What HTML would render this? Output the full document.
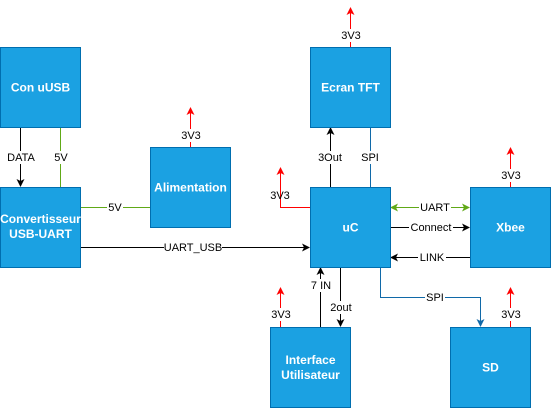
<!DOCTYPE html>
<html><head><meta charset="utf-8"><style>
html,body{margin:0;padding:0;background:#fff;}
svg{display:block;font-family:"Liberation Sans",Helvetica,Arial,sans-serif;}
.b{fill:#1ba1e2;stroke:#006eaf;stroke-width:1;}
.t{fill:#fff;font-size:12px;font-weight:bold;text-anchor:middle;}
.l{font-size:11px;text-anchor:middle;fill:#000;}
.k{stroke:#000;fill:none;}
.g{stroke:#60a917;fill:none;}
.r{stroke:#ff0000;fill:none;}
.u{stroke:#1069a8;fill:none;}
.bg{fill:#fff;}
</style></head><body>
<svg width="551" height="408" viewBox="0 0 551 408" xmlns="http://www.w3.org/2000/svg">
<defs>
<marker id="ak" markerWidth="8" markerHeight="8" refX="7" refY="4" orient="auto" markerUnits="userSpaceOnUse"><path d="M0,0 L8,4 L0,8 L2,4 Z" fill="#000"/></marker>
<marker id="ar" markerWidth="8" markerHeight="8" refX="7" refY="4" orient="auto" markerUnits="userSpaceOnUse"><path d="M0,0 L8,4 L0,8 L2,4 Z" fill="#ff0000"/></marker>
<marker id="ag" markerWidth="8" markerHeight="8" refX="7" refY="4" orient="auto-start-reverse" markerUnits="userSpaceOnUse"><path d="M0,0 L8,4 L0,8 L2,4 Z" fill="#60a917"/></marker>
<marker id="au" markerWidth="8" markerHeight="8" refX="7" refY="4" orient="auto" markerUnits="userSpaceOnUse"><path d="M0,0 L8,4 L0,8 L2,4 Z" fill="#1069a8"/></marker>
</defs>

<!-- connectors -->
<line class="k" x1="20.5" y1="127" x2="20.5" y2="186" marker-end="url(#ak)"/>
<line class="g" x1="60.5" y1="127" x2="60.5" y2="187"/>
<line class="g" x1="80" y1="207.5" x2="150" y2="207.5"/>
<line class="k" x1="80" y1="247.5" x2="309" y2="247.5" marker-end="url(#ak)"/>
<line class="r" x1="190.5" y1="147" x2="190.5" y2="108" marker-end="url(#ar)"/>
<line class="r" x1="350.5" y1="47" x2="350.5" y2="8" marker-end="url(#ar)"/>
<line class="k" x1="330.5" y1="187" x2="330.5" y2="128" marker-end="url(#ak)"/>
<line class="u" x1="370.5" y1="127" x2="370.5" y2="187"/>
<polyline class="r" points="310,207.5 280.5,207.5 280.5,168" marker-end="url(#ar)"/>
<line class="g" x1="391" y1="207.5" x2="469" y2="207.5" marker-start="url(#ag)" marker-end="url(#ag)"/>
<line class="k" x1="390" y1="227.5" x2="469" y2="227.5" marker-end="url(#ak)"/>
<line class="k" x1="470" y1="257.5" x2="391" y2="257.5" marker-end="url(#ak)"/>
<line class="r" x1="510.5" y1="187" x2="510.5" y2="148" marker-end="url(#ar)"/>
<line class="k" x1="320.5" y1="327" x2="320.5" y2="268" marker-end="url(#ak)"/>
<line class="k" x1="340.5" y1="267" x2="340.5" y2="326" marker-end="url(#ak)"/>
<polyline class="u" points="380.5,267 380.5,297.5 480.5,297.5 480.5,326" marker-end="url(#au)"/>
<line class="r" x1="280.5" y1="327" x2="280.5" y2="288" marker-end="url(#ar)"/>
<line class="r" x1="510.5" y1="327" x2="510.5" y2="288" marker-end="url(#ar)"/>

<!-- boxes -->
<rect class="b" x="0.5" y="47.5" width="80" height="80"/>
<rect class="b" x="0.5" y="187.5" width="80" height="80"/>
<rect class="b" x="150.5" y="147.5" width="80" height="80"/>
<rect class="b" x="310.5" y="47.5" width="80" height="80"/>
<rect class="b" x="310.5" y="187.5" width="80" height="80"/>
<rect class="b" x="470.5" y="187.5" width="80" height="80"/>
<rect class="b" x="270.5" y="327.5" width="80" height="80"/>
<rect class="b" x="450.5" y="327.5" width="80" height="80"/>

<text class="t" x="40.5" y="91.5">Con uUSB</text>
<text class="t" x="40.5" y="223">Convertisseur</text>
<text class="t" x="40.5" y="238">USB-UART</text>
<text class="t" x="190.5" y="191.5">Alimentation</text>
<text class="t" x="350.5" y="91.5">Ecran TFT</text>
<text class="t" x="350.5" y="231.5">uC</text>
<text class="t" x="510.5" y="231.5">Xbee</text>
<text class="t" x="310.5" y="364">Interface</text>
<text class="t" x="310.5" y="379">Utilisateur</text>
<text class="t" x="490.5" y="371.5">SD</text>

<!-- labels -->
<g>
<rect class="bg" x="6" y="151" width="30" height="13"/><text class="l" x="21" y="161">DATA</text>
<rect class="bg" x="53" y="151" width="16" height="13"/><text class="l" x="61" y="161">5V</text>
<rect class="bg" x="107" y="201" width="16" height="13"/><text class="l" x="115" y="211">5V</text>
<rect class="bg" x="164" y="241" width="58" height="13"/><text class="l" x="193" y="251">UART_USB</text>
<rect class="bg" x="180" y="129" width="22" height="13"/><text class="l" x="191" y="139">3V3</text>
<rect class="bg" x="340" y="29" width="22" height="13"/><text class="l" x="351" y="39">3V3</text>
<rect class="bg" x="317" y="151" width="26" height="13"/><text class="l" x="330" y="161">3Out</text>
<rect class="bg" x="361" y="151" width="18" height="13"/><text class="l" x="370" y="161">SPI</text>
<text class="l" x="280" y="199">3V3</text>
<rect class="bg" x="419" y="201" width="32" height="13"/><text class="l" x="435" y="211">UART</text>
<rect class="bg" x="409" y="221" width="44" height="13"/><text class="l" x="431" y="231">Connect</text>
<rect class="bg" x="418" y="251" width="28" height="13"/><text class="l" x="432" y="261">LINK</text>
<rect class="bg" x="500" y="169" width="22" height="13"/><text class="l" x="511" y="179">3V3</text>
<rect class="bg" x="309" y="279" width="24" height="13"/><text class="l" x="321" y="289">7 IN</text>
<rect class="bg" x="329" y="301" width="24" height="13"/><text class="l" x="341" y="311">2out</text>
<rect class="bg" x="425" y="291" width="20" height="13"/><text class="l" x="435" y="301">SPI</text>
<rect class="bg" x="270" y="308" width="22" height="13"/><text class="l" x="281" y="318">3V3</text>
<rect class="bg" x="500" y="308" width="22" height="13"/><text class="l" x="511" y="318">3V3</text>
</g>
</svg>
</body></html>
